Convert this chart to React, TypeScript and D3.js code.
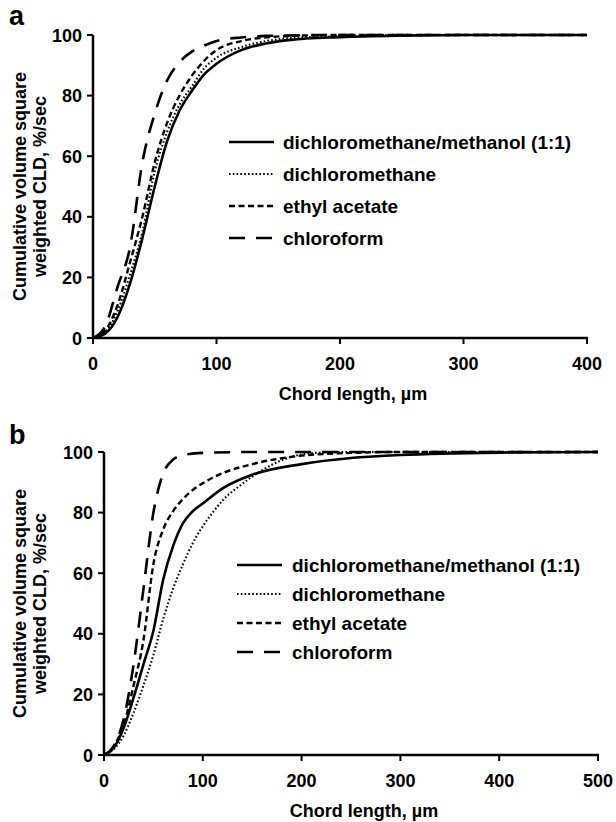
import React from "react";
import * as d3 from "d3";

// chord length grid (µm) for each series, panel a
const aSolidX = [0, 10, 20, 30, 40, 50, 60, 70, 80, 90, 100, 120, 140, 160, 200, 250, 300, 400];
const aSolidY = [0, 1.5, 7, 18, 33, 50, 65, 75, 81.5, 87, 90.5, 95, 97.2, 98.4, 99.3, 99.8, 100, 100];
const aDotX = [0, 10, 20, 30, 40, 50, 60, 70, 80, 90, 100, 120, 140, 160, 200, 250, 400];
const aDotY = [0, 2, 9, 21, 35, 55, 68, 77, 83, 89, 92.5, 96, 98, 99, 99.6, 100, 100];
const aDashX = [0, 10, 20, 30, 40, 50, 60, 70, 80, 90, 100, 120, 140, 160, 200, 400];
const aDashY = [0, 2.5, 11, 25, 40, 58, 71, 80, 86.5, 91.5, 95, 98, 99.2, 99.7, 100, 100];
const aLongX = [0, 10, 20, 30, 40, 50, 60, 70, 80, 90, 100, 120, 140, 200, 400];
const aLongY = [0, 4, 17, 30, 58, 74, 85, 91, 94.5, 96.5, 98, 99.2, 99.7, 100, 100];

// panel b
const bSolidX = [0, 10, 20, 30, 40, 50, 60, 70, 80, 90, 100, 120, 150, 200, 250, 300, 400, 500];
const bSolidY = [0, 2.5, 9, 19, 30, 41, 58, 69, 76.5, 80.5, 83, 88, 92.5, 96, 98, 99, 99.8, 100];
const bDotX = [0, 10, 20, 30, 40, 50, 60, 70, 80, 90, 100, 110, 120, 140, 160, 180, 200, 220, 250, 500];
const bDotY = [0, 2, 6.5, 14, 23, 33, 45, 55, 63, 70, 75.5, 80, 84, 89.5, 94, 97.3, 99.2, 99.8, 100, 100];
const bDashX = [0, 10, 20, 30, 40, 50, 60, 70, 80, 90, 100, 120, 150, 200, 250, 300, 500];
const bDashY = [0, 3, 10, 23, 38, 63, 74.5, 80.5, 84.5, 87.5, 89.7, 93, 96, 98.8, 99.7, 100, 100];
const bLongX = [0, 10, 20, 30, 40, 50, 60, 70, 80, 100, 150, 500];
const bLongY = [0, 3, 12, 30, 55, 80, 93, 97.5, 99, 99.7, 100, 100];

const seriesNames = [
  "dichloromethane/methanol (1:1)",
  "dichloromethane",
  "ethyl acetate",
  "chloroform"
];
const yTicks = [0, 20, 40, 60, 80, 100];
const aXTicks = [0, 100, 200, 300, 400];
const bXTicks = [0, 100, 200, 300, 400, 500];

const font = "'Liberation Sans', Arial, sans-serif";
const dashes = ["", "1.6 2.2", "6 3.5", "16 11"];
const widths = [2.6, 2.1, 2.4, 2.6];

function zip(xs: number[], ys: number[]) {
  return xs.map((x, i) => [x, ys[i]] as [number, number]);
}

function T(props: any) {
  const { x, y, rot = 0, anchor = "start", size = 18, children } = props;
  return (
    <text
      transform={`translate(${x},${y}) rotate(${rot})`}
      textAnchor={anchor}
      fontFamily={font}
      fontWeight="bold"
      fontSize={size}
      fill="#000"
    >
      {children}
    </text>
  );
}

function Panel(props: any) {
  const { letter, letterY, left, right, top, bottom, xMax, xTicks, data, legend } = props;
  const x = d3.scaleLinear().domain([0, xMax]).range([left, right]);
  const y = d3.scaleLinear().domain([0, 100]).range([bottom, top]);
  const line = d3
    .line<[number, number]>()
    .x(d => x(d[0]))
    .y(d => y(d[1]))
    .curve(d3.curveMonotoneX);
  const midY = (top + bottom) / 2;

  return (
    <g>
      <T x={9} y={letterY} size={27}>{letter}</T>
      {data.map((s: [number, number][], i: number) => (
        <path
          key={`c${i}`}
          d={line(s) || ""}
          fill="none"
          stroke="#000"
          strokeWidth={widths[i]}
          strokeDasharray={dashes[i]}
        />
      ))}
      <line x1={left} x2={left} y1={top} y2={bottom + 1} stroke="#000" strokeWidth={2.5} />
      <line x1={left - 1} x2={right + 1} y1={bottom} y2={bottom} stroke="#000" strokeWidth={2.5} />
      {yTicks.map(t => (
        <g key={`y${t}`}>
          <line x1={left - 6} x2={left} y1={y(t)} y2={y(t)} stroke="#000" strokeWidth={2} />
          <T x={left - 11} y={y(t) + 6.5} anchor="end">{t}</T>
        </g>
      ))}
      {xTicks.map((t: number) => (
        <g key={`x${t}`}>
          <line x1={x(t)} x2={x(t)} y1={bottom} y2={bottom + 6} stroke="#000" strokeWidth={2} />
          <T x={x(t)} y={bottom + 32} anchor="middle">{t}</T>
        </g>
      ))}
      <T x={(left + right) / 2 + 13} y={bottom + 62} anchor="middle">
        Chord length, µm
      </T>
      <T x={26} y={midY} rot={-90} anchor="middle" size={18}>
        Cumulative  volume square
      </T>
      <T x={46} y={midY} rot={-90} anchor="middle" size={18}>
        weighted CLD, %/sec
      </T>
      {seriesNames.map((n, i) => {
        const ly = legend.y + i * legend.step;
        return (
          <g key={`l${i}`}>
            <line
              x1={legend.x}
              x2={legend.x + 45}
              y1={ly}
              y2={ly}
              stroke="#000"
              strokeWidth={widths[i]}
              strokeDasharray={dashes[i]}
            />
            <T x={legend.tx} y={ly + 6.5} size={19}>{n}</T>
          </g>
        );
      })}
    </g>
  );
}

export default function App() {
  const aData = [zip(aSolidX, aSolidY), zip(aDotX, aDotY), zip(aDashX, aDashY), zip(aLongX, aLongY)];
  const bData = [zip(bSolidX, bSolidY), zip(bDotX, bDotY), zip(bDashX, bDashY), zip(bLongX, bLongY)];
  return (
    <svg
      width={616}
      height={822}
      style={{ position: "absolute", left: 0, top: 0, background: "#fff" }}
    >
      <rect width={616} height={822} fill="#fff" />
      <Panel
        letter="a"
        letterY={25}
        left={93}
        right={587}
        top={35}
        bottom={338}
        xMax={400}
        xTicks={aXTicks}
        data={aData}
        legend={{ x: 229, tx: 283, y: 142, step: 32 }}
      />
      <Panel
        letter="b"
        letterY={444}
        left={104}
        right={598}
        top={452}
        bottom={755}
        xMax={500}
        xTicks={bXTicks}
        data={bData}
        legend={{ x: 237, tx: 292, y: 565, step: 29 }}
      />
    </svg>
  );
}
